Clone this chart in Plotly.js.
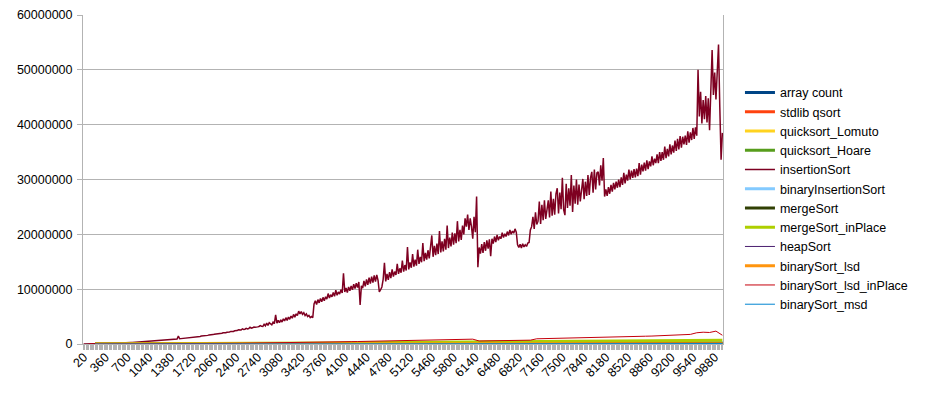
<!DOCTYPE html>
<html>
<head>
<meta charset="utf-8">
<script src="https://cdn.plot.ly/plotly-3.0.1.min.js"></script>
<style>html,body{margin:0;padding:0;background:#fff;}#chart{width:926px;height:393px;}</style>
</head>
<body>
<div id="chart"></div>
<script>
// Array sizes (categories): 20, 40, ... 10000 (500 categories, as in the x-axis labels)
const categories = [];
for (let n = 20; n <= 10000; n += 20) categories.push(n);

const tickLabels = [20,360,700,1040,1380,1720,2060,2400,2740,3080,3420,3760,4100,4440,4780,5120,5460,5800,6140,6480,6820,7160,7500,7840,8180,8520,8860,9200,9540,9880];

// insertionSort, one value per category, in millions
const insertionSortM = [
0.00,0.00,0.00,0.01,0.01,0.01,0.01,0.02,0.02,0.03,
0.03,0.04,0.04,0.05,0.05,0.06,0.07,0.07,0.08,0.09,
0.09,0.10,0.11,0.11,0.12,0.14,0.14,0.15,0.17,0.17,
0.18,0.20,0.21,0.22,0.23,0.24,0.26,0.27,0.28,0.30,
0.31,0.32,0.34,0.36,0.37,0.38,0.40,0.42,0.43,0.45,
0.47,0.48,0.50,0.52,0.54,0.56,0.58,0.60,0.62,0.64,
0.63,0.66,0.68,0.70,0.71,0.74,0.76,0.78,0.80,0.83,
0.85,0.87,0.89,0.92,1.45,0.95,0.98,1.00,1.03,1.06,
1.08,1.12,1.13,1.17,1.18,1.21,1.26,1.27,1.29,1.36,
1.35,1.38,1.44,1.45,1.47,1.55,1.54,1.57,1.66,1.64,
1.68,1.71,1.76,1.78,1.83,1.85,1.95,1.92,1.96,2.05,
2.03,2.07,2.15,2.15,2.20,2.30,2.26,2.30,2.42,2.38,
2.45,2.60,2.52,2.56,2.75,2.64,2.70,2.85,2.76,2.82,
3.05,2.90,2.96,3.10,3.05,3.15,3.12,3.20,3.35,3.25,
3.2,3.6,3.3,3.8,3.4,3.9,3.6,3.5,4.0,3.7,
5.3,3.8,4.3,3.9,4.4,4.0,4.6,4.2,4.8,4.3,
4.9,4.5,5.1,4.7,5.4,4.9,5.5,5.2,6.0,5.5,
5.9,5.4,5.7,5.2,5.5,5.0,5.2,4.8,5.0,4.8,
7.3,7.9,7.2,8.1,7.5,8.3,7.7,8.5,7.9,8.6,
8.2,9.2,8.4,9.0,8.6,9.4,8.7,9.8,8.9,9.5,
9.1,9.9,9.3,12.9,9.5,10.2,9.4,10.4,9.7,10.6,
9.9,10.9,10.1,11.1,10.3,11.3,7.1,10.6,10.2,11.5,
10.5,11.8,10.8,12.1,11.0,12.3,11.2,12.5,11.4,12.6,
11.6,9.5,9.9,10.4,11.8,14.8,11.4,12.8,11.7,13.1,
12.0,13.6,12.3,13.2,12.6,14.6,12.8,13.8,13.0,15.2,
13.2,14.4,13.4,17.7,13.6,14.9,13.9,16.4,14.1,15.4,
14.3,17.2,14.6,15.9,14.9,18.4,15.1,16.6,15.4,17.1,
15.6,17.4,19.8,15.9,17.9,16.2,18.3,16.4,20.6,16.7,
18.7,16.9,19.2,17.2,21.6,17.5,19.4,17.8,20.3,18.1,
20.2,18.4,22.4,18.7,20.8,19.0,21.6,20.0,22.9,21.4,
23.6,20.8,22.9,21.4,19.2,23.2,20.4,26.9,14.0,17.6,
16.5,18.2,16.6,18.6,17.0,18.9,17.4,19.1,16.0,19.2,
18.3,19.6,18.6,19.9,18.9,19.6,19.2,20.3,19.4,20.1,
19.6,20.5,19.8,20.8,20.0,20.6,20.2,21.0,20.4,18.1,
17.6,18.2,17.5,18.3,17.7,18.1,17.8,18.4,18.5,20.8,
21.4,23.2,21.0,24.0,21.8,22.4,26.0,21.9,25.4,22.6,
26.2,22.8,25.0,26.2,23.1,27.8,23.4,26.5,23.6,27.4,
28.4,23.8,27.6,24.6,30.3,24.5,23.5,29.2,24.8,28.4,
25.2,30.8,24.1,28.9,25.6,30.0,25.4,29.1,26.0,28.6,
30.1,26.4,29.6,27.0,30.8,27.2,30.3,31.4,27.6,31.8,
28.2,31.2,31.4,28.9,32.6,29.8,33.9,26.9,28.2,27.0,
28.6,27.4,29.0,27.8,29.4,28.2,29.6,28.5,30.0,28.6,
30.4,29.0,31.2,29.3,30.9,29.8,31.8,30.0,31.6,30.3,
31.9,30.4,32.0,30.6,33.0,30.9,32.7,31.5,33.1,31.6,
33.5,31.9,33.3,32.4,34.2,32.6,33.8,33.0,34.6,33.0,
35.0,33.4,35.0,33.6,36.0,33.9,35.6,34.2,36.4,34.6,
36.2,34.9,37.1,35.2,37.4,35.5,37.9,35.8,37.8,36.4,
38.0,36.3,38.8,36.7,38.6,37.2,39.4,37.4,39.5,38.0,
50.0,41.5,46.0,40.2,44.5,41.0,45.2,40.4,44.8,39.0,
47.0,53.6,45.4,49.5,44.6,51.3,54.6,43.2,33.6,38.5
];

// binarySort_lsd_inPlace, every 5th category (n = 100 ... 10000), in millions
const lsdInPlaceM = [
0.00,0.00,0.00,0.00,0.01,0.01,0.01,0.01,0.02,0.02,
0.03,0.03,0.04,0.04,0.05,0.06,0.06,0.07,0.08,0.09,
0.10,0.11,0.12,0.13,0.14,0.15,0.16,0.17,0.19,0.20,
0.22,0.23,0.25,0.27,0.29,0.31,0.33,0.35,0.37,0.39,
0.41,0.43,0.45,0.48,0.50,0.52,0.54,0.57,0.59,0.62,
0.64,0.66,0.69,0.71,0.74,0.76,0.79,0.81,0.84,0.86,
0.88,0.55,0.57,0.58,0.60,0.62,0.63,0.65,0.67,0.70,
0.95,0.97,0.99,1.01,1.03,1.05,1.08,1.10,1.12,1.15,
1.20,1.18,1.25,1.28,1.32,1.35,1.38,1.42,1.45,1.50,
1.55,1.60,1.65,1.70,1.75,2.05,2.15,2.10,2.35,1.60
];

// Other series, every 10th category (n = 200 ... 10000), in millions
const stdlibQsortM = [0.001,0.002,0.004,0.005,0.007,0.008,0.010,0.011,0.013,0.014,0.016,0.018,0.019,0.021,0.023,0.024,0.026,0.028,0.030,0.031,0.033,0.035,0.037,0.038,0.040,0.042,0.044,0.046,0.047,0.049,0.051,0.053,0.055,0.057,0.059,0.060,0.062,0.064,0.066,0.068,0.070,0.072,0.074,0.076,0.078,0.080,0.082,0.084,0.086,0.088];
const lomutoM = [0.003,0.005,0.008,0.010,0.014,0.017,0.020,0.024,0.027,0.031,0.035,0.038,0.043,0.046,0.050,0.055,0.060,0.062,0.067,0.072,0.076,0.080,0.086,0.090,0.095,0.100,0.150,0.108,0.113,0.118,0.124,0.130,0.134,0.140,0.145,0.151,0.156,0.160,0.166,0.172,0.178,0.184,0.190,0.196,0.200,0.207,0.213,0.220,0.226,0.232];
const hoareM = [0.002,0.004,0.006,0.008,0.010,0.012,0.014,0.017,0.019,0.021,0.024,0.026,0.029,0.032,0.034,0.037,0.040,0.042,0.046,0.049,0.052,0.055,0.058,0.061,0.064,0.067,0.070,0.074,0.077,0.080,0.084,0.087,0.090,0.094,0.097,0.101,0.104,0.108,0.112,0.115,0.119,0.123,0.126,0.130,0.134,0.138,0.142,0.146,0.150,0.154];
const binaryInsertionM = [0.001,0.002,0.003,0.005,0.007,0.009,0.011,0.014,0.017,0.020,0.023,0.027,0.031,0.035,0.039,0.044,0.049,0.054,0.059,0.064,0.070,0.076,0.082,0.088,0.095,0.101,0.108,0.115,0.122,0.130,0.137,0.145,0.153,0.161,0.170,0.178,0.187,0.196,0.205,0.215,0.224,0.234,0.244,0.254,0.265,0.275,0.286,0.297,0.308,0.320];
const mergeSortM = [0.002,0.004,0.007,0.009,0.012,0.014,0.017,0.020,0.022,0.025,0.028,0.031,0.034,0.037,0.040,0.043,0.046,0.049,0.052,0.055,0.058,0.061,0.064,0.067,0.070,0.073,0.077,0.080,0.083,0.086,0.090,0.093,0.096,0.100,0.103,0.106,0.110,0.113,0.117,0.120,0.124,0.127,0.131,0.134,0.138,0.141,0.145,0.148,0.152,0.156];
const mergeInPlaceM = [0.003,0.008,0.014,0.021,0.029,0.038,0.047,0.057,0.067,0.078,0.089,0.100,0.112,0.124,0.136,0.149,0.162,0.175,0.188,0.202,0.216,0.230,0.244,0.259,0.274,0.289,0.304,0.320,0.336,0.352,0.368,0.385,0.401,0.418,0.435,0.452,0.470,0.487,0.505,0.523,0.541,0.560,0.578,0.597,0.616,0.700,0.690,0.720,0.710,0.680];
const heapSortM = [0.002,0.004,0.006,0.008,0.010,0.013,0.015,0.018,0.020,0.023,0.025,0.028,0.031,0.033,0.036,0.039,0.042,0.044,0.047,0.050,0.053,0.056,0.059,0.062,0.065,0.068,0.071,0.074,0.077,0.080,0.083,0.086,0.089,0.092,0.096,0.099,0.102,0.105,0.108,0.112,0.115,0.118,0.121,0.125,0.128,0.131,0.135,0.138,0.141,0.145];
const lsdM = [0.001,0.002,0.003,0.004,0.005,0.006,0.007,0.008,0.009,0.010,0.011,0.012,0.013,0.014,0.015,0.016,0.017,0.018,0.019,0.020,0.021,0.022,0.023,0.024,0.025,0.026,0.027,0.028,0.029,0.030,0.031,0.032,0.033,0.034,0.035,0.036,0.037,0.038,0.039,0.040,0.041,0.042,0.043,0.044,0.045,0.046,0.047,0.048,0.049,0.050];
const msdM = [0.001,0.003,0.004,0.006,0.007,0.009,0.011,0.012,0.014,0.016,0.017,0.019,0.021,0.022,0.024,0.026,0.027,0.029,0.031,0.033,0.034,0.036,0.038,0.040,0.041,0.043,0.045,0.047,0.049,0.050,0.052,0.054,0.056,0.058,0.059,0.061,0.063,0.065,0.067,0.069,0.070,0.072,0.074,0.076,0.078,0.080,0.082,0.084,0.085,0.087];

const every10 = categories.filter((n, i) => (i + 1) % 10 === 0);
const every5 = categories.filter((n, i) => (i + 1) % 5 === 0);
const M = v => v * 1e6;

const thick = 3, thin = 1;
const traces = [
  {name: 'array count', x: every10, y: every10, color: '#004586', w: thick},
  {name: 'stdlib qsort', x: every10, y: stdlibQsortM.map(M), color: '#ff420e', w: thick},
  {name: 'quicksort_Lomuto', x: every10, y: lomutoM.map(M), color: '#ffd320', w: thick},
  {name: 'quicksort_Hoare', x: every10, y: hoareM.map(M), color: '#579d1c', w: thick},
  {name: 'insertionSort', x: categories, y: insertionSortM.map(M), color: '#7e0021', w: 1.5, lw: thin},
  {name: 'binaryInsertionSort', x: every10, y: binaryInsertionM.map(M), color: '#83caff', w: thick},
  {name: 'mergeSort', x: every10, y: mergeSortM.map(M), color: '#314004', w: thick},
  {name: 'mergeSort_inPlace', x: every10, y: mergeInPlaceM.map(M), color: '#aecf00', w: thick},
  {name: 'heapSort', x: every10, y: heapSortM.map(M), color: '#4b1f6f', w: thin},
  {name: 'binarySort_lsd', x: every10, y: lsdM.map(M), color: '#ff950e', w: thick},
  {name: 'binarySort_lsd_inPlace', x: every5, y: lsdInPlaceM.map(M), color: '#c5000b', w: thin},
  {name: 'binarySort_msd', x: every10, y: msdM.map(M), color: '#0084d1', w: thin}
].map(t => ({type: 'scatter', mode: 'lines', name: t.name, x: t.x, y: t.y,
  line: {color: t.color, width: t.w}}));

const font = {family: 'Liberation Sans, Arial, sans-serif', size: 12.5, color: '#000'};
const layout = {
  width: 926, height: 393,
  margin: {l: 83, r: 203, t: 15, b: 49},
  paper_bgcolor: '#fff', plot_bgcolor: '#fff',
  font: font,
  showlegend: true,
  legend: {x: 1.0265, xanchor: 'left', y: 0.809, yanchor: 'top', font: font,
    bgcolor: 'rgba(0,0,0,0)', borderwidth: 0},
  xaxis: {
    type: 'linear', range: [10, 10010],
    tickmode: 'array', tickvals: tickLabels, ticktext: tickLabels.map(String),
    tickangle: -45, ticks: '', showgrid: false,
    showline: true, linecolor: '#b3b3b3', linewidth: 1,
    tickfont: font, zeroline: false,
    minor: {ticks: 'outside', ticklen: 5, tickcolor: '#b3b3b3', tickwidth: 1, dtick: 20, tick0: 0, showgrid: false}
  },
  yaxis: {
    range: [0, 60000000], dtick: 10000000, tick0: 0, tickformat: 'd',
    ticks: 'outside', ticklen: 5, tickcolor: '#b3b3b3',
    showgrid: true, gridcolor: '#b3b3b3', gridwidth: 1,
    showline: true, linecolor: '#b3b3b3', mirror: true,
    zeroline: false, tickfont: font, ticklabelstandoff: 2
  }
};

Plotly.newPlot('chart', traces, layout, {staticPlot: true, displayModeBar: false});
</script>
</body>
</html>
